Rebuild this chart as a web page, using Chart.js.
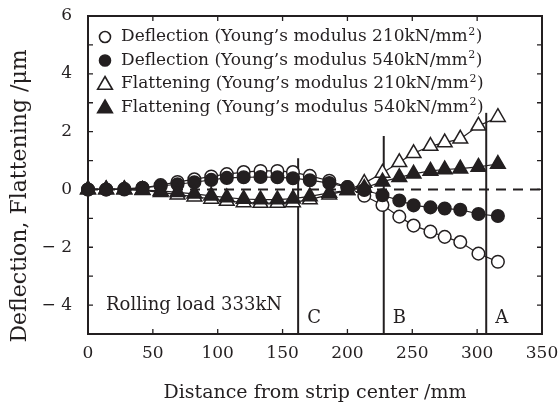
<!DOCTYPE html>
<html><head><meta charset="utf-8">
<script src="https://cdn.jsdelivr.net/npm/chart.js@4/dist/chart.umd.min.js"></script>
<style>html,body{margin:0;padding:0;background:#fff}#wrap{width:560px;height:405px}</style>
</head><body><div id="wrap"><canvas id="c" width="560" height="405"></canvas></div>
<script>
// ---- data ----
const distances = [0, 14, 28, 42, 56, 69, 82, 95, 107, 120, 133, 146, 158, 171, 186, 200, 213, 227, 240, 251, 264, 275, 287, 301, 316];
const deflection210 = [0, 0, 0.02, 0.06, 0.15, 0.26, 0.35, 0.45, 0.53, 0.6, 0.64, 0.64, 0.6, 0.47, 0.3, 0.08, -0.22, -0.54, -0.94, -1.25, -1.46, -1.64, -1.82, -2.22, -2.5];
const deflection540 = [0, 0, 0, 0.05, 0.12, 0.18, 0.25, 0.33, 0.4, 0.42, 0.43, 0.42, 0.39, 0.32, 0.22, 0.08, -0.02, -0.2, -0.38, -0.55, -0.62, -0.66, -0.7, -0.85, -0.92];
const flattening210 = [0, 0, 0, -0.03, -0.1, -0.18, -0.25, -0.33, -0.4, -0.45, -0.47, -0.47, -0.45, -0.35, -0.18, -0.03, 0.22, 0.57, 0.94, 1.25, 1.5, 1.62, 1.75, 2.2, 2.5];
const flattening540 = [0, 0, 0, -0.02, -0.05, -0.1, -0.15, -0.22, -0.28, -0.33, -0.35, -0.35, -0.32, -0.24, -0.12, -0.03, 0.05, 0.27, 0.42, 0.54, 0.64, 0.69, 0.72, 0.78, 0.88];
const seriesLabels = [
  'Deflection (Young\u2019s modulus 210kN/mm\u00B2)',
  'Deflection (Young\u2019s modulus 540kN/mm\u00B2)',
  'Flattening (Young\u2019s modulus 210kN/mm\u00B2)',
  'Flattening (Young\u2019s modulus 540kN/mm\u00B2)'
];
const xTickValues = [0, 50, 100, 150, 200, 250, 300, 350];
const yTickValues = [-4, -2, 0, 2, 4, 6];
const zoneBoundaries = [162, 228, 307];
const zoneLineTops = [1.08, 1.85, 2.65];
const zoneLabels = ['C', 'B', 'A'];
const loadLabel = 'Rolling load 333kN';
const xTitle = 'Distance from strip center /mm';
const yTitle = 'Deflection, Flattening /\u03BCm';

// ---- chart ----
const INK = '#231f20';
const FONT = '"DejaVu Serif", serif';
const pts = arr => arr.map((v, i) => ({x: distances[i], y: v}));
function ds(label, arr, style, filled, order) {
  const tri = style === 'triangle';
  return {
    label, data: pts(arr), order, clip: false,
    borderColor: INK, borderWidth: 1.2,
    pointStyle: style, pointRadius: tri ? 8.5 : 6.3,
    pointBorderColor: INK, pointBorderWidth: 1.5,
    pointBackgroundColor: filled ? INK : '#fff',
    tension: 0
  };
}
const datasets = [
  ds(seriesLabels[0], deflection210, 'circle', false, 3),
  ds(seriesLabels[1], deflection540, 'circle', true, 1),
  ds(seriesLabels[2], flattening210, 'triangle', false, 2),
  ds(seriesLabels[3], flattening540, 'triangle', true, 0)
];

const decor = {
  id: 'decor',
  beforeDatasetsDraw(chart) {
    const {ctx, chartArea: a, scales: {x, y}} = chart;
    ctx.save();
    ctx.strokeStyle = INK; ctx.lineWidth = 2; ctx.setLineDash([10, 7]);
    const y0 = y.getPixelForValue(0);
    ctx.beginPath(); ctx.moveTo(a.left, y0); ctx.lineTo(a.right, y0); ctx.stroke();
    ctx.setLineDash([]);
    zoneBoundaries.forEach((b, i) => {
      const px = x.getPixelForValue(b);
      ctx.beginPath(); ctx.moveTo(px, y.getPixelForValue(zoneLineTops[i])); ctx.lineTo(px, a.bottom); ctx.stroke();
    });
    ctx.restore();
  },
  afterDraw(chart) {
    const {ctx, chartArea: a, scales: {x, y}} = chart;
    ctx.save();
    ctx.strokeStyle = INK; ctx.lineWidth = 2;
    ctx.strokeRect(a.left, a.top, a.right - a.left, a.bottom - a.top);
    ctx.lineWidth = 1.3;
    ctx.beginPath();
    xTickValues.forEach(v => {
      if (v <= x.min || v >= x.max) return;
      const px = x.getPixelForValue(v);
      ctx.moveTo(px, a.bottom); ctx.lineTo(px, a.bottom - 5);
      ctx.moveTo(px, a.top); ctx.lineTo(px, a.top + 5);
    });
    for (let v = Math.ceil(y.min) + 1; v < y.max; v++) {
      const py = y.getPixelForValue(v);
      ctx.moveTo(a.left, py); ctx.lineTo(a.left + 5, py);
      ctx.moveTo(a.right, py); ctx.lineTo(a.right - 5, py);
    }
    ctx.stroke();
    ctx.fillStyle = INK;
    ctx.font = '18px ' + FONT;
    ctx.textBaseline = 'middle'; ctx.textAlign = 'left';
    ctx.fillText(loadLabel, a.left + 18, a.bottom - 29);
    zoneBoundaries.forEach((b, i) => {
      ctx.fillText(zoneLabels[i], x.getPixelForValue(b) + 9, a.bottom - 16);
    });
    ctx.save();
    ctx.font = '22px ' + FONT;
    ctx.translate(20, 196); ctx.rotate(-Math.PI / 2);
    ctx.textAlign = 'center';
    ctx.fillText(yTitle, 0, 0);
    ctx.restore();
    const lx = a.left + 17, tx = a.left + 33, ly0 = a.top + 21, dy = 23.5;
    chart.data.datasets.forEach((d, i) => {
      const yy = ly0 + i * dy;
      ctx.fillStyle = d.pointBackgroundColor; ctx.strokeStyle = INK; ctx.lineWidth = 1.6;
      Chart.helpers.drawPoint(ctx, {pointStyle: d.pointStyle, radius: d.pointStyle === 'triangle' ? 8.5 : 5.5, borderWidth: 1.6, rotation: 0}, lx, yy + (d.pointStyle === 'triangle' ? 1 : 0));
      ctx.fillStyle = INK;
      const parts = d.label.split('\u00B2');
      let cx = tx;
      ctx.font = '17px ' + FONT; ctx.textAlign = 'left'; ctx.textBaseline = 'middle';
      ctx.fillText(parts[0], cx, yy); cx += ctx.measureText(parts[0]).width;
      ctx.font = '11px ' + FONT;
      ctx.fillText('2', cx + 0.5, yy - 5); cx += ctx.measureText('2').width + 1;
      ctx.font = '17px ' + FONT;
      ctx.fillText(parts[1], cx, yy);
    });
    ctx.restore();
  }
};

new Chart(document.getElementById('c'), {
  type: 'line',
  data: {datasets},
  options: {
    responsive: false, animation: false, devicePixelRatio: 1,
    layout: {padding: {left: 0, right: 18, top: 16, bottom: 0}},
    plugins: {legend: {display: false}, tooltip: {enabled: false}},
    scales: {
      x: {
        type: 'linear', min: 0, max: 350,
        afterFit: s => { s.height = 71; s.paddingLeft = 0; s.paddingRight = 0; },
        afterBuildTicks: s => { s.ticks = xTickValues.map(v => ({value: v})); },
        ticks: {font: {family: FONT, size: 17}, color: INK, padding: 9, maxRotation: 0, autoSkip: false},
        grid: {display: false, drawTicks: false}, border: {display: false},
        title: {display: true, text: xTitle, font: {family: FONT, size: 19, lineHeight: 1.2}, color: INK, padding: {top: 0, bottom: 1}}
      },
      y: {
        min: -5, max: 6,
        afterFit: s => { s.width = 88; s.paddingTop = 0; s.paddingBottom = 0; },
        afterBuildTicks: s => { s.ticks = yTickValues.map(v => ({value: v})); },
        ticks: {font: {family: FONT, size: 17}, color: INK, padding: 16,
          callback: v => v < 0 ? '\u2212 ' + Math.abs(v) : String(v)},
        grid: {display: false, drawTicks: false}, border: {display: false}
      }
    }
  },
  plugins: [decor]
});
</script></body></html>
